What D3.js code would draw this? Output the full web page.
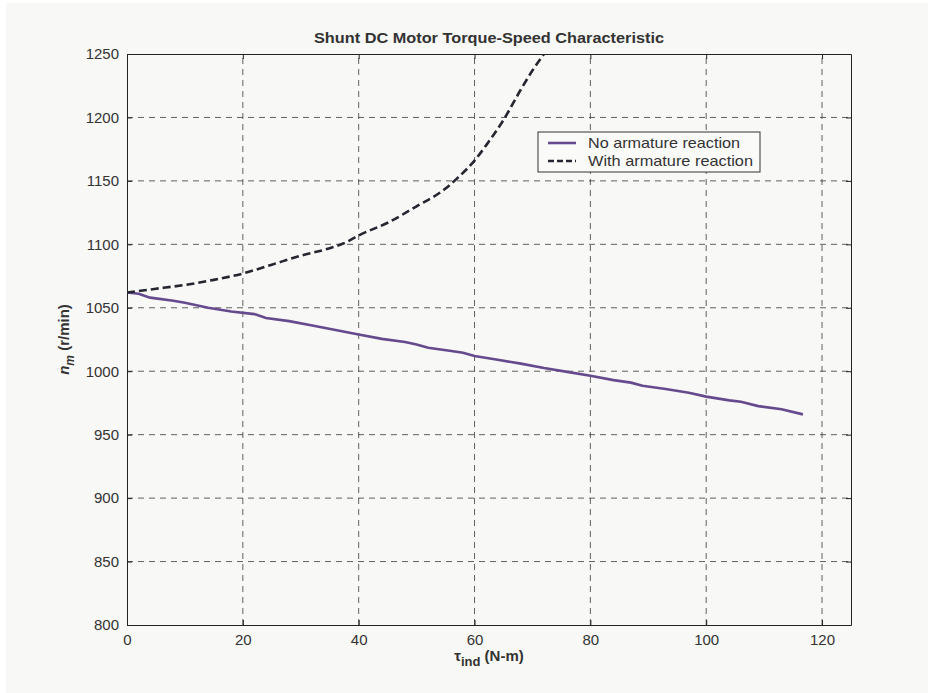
<!DOCTYPE html>
<html><head><meta charset="utf-8">
<script src="https://cdn.jsdelivr.net/npm/d3@7"></script>
<style>
html,body{margin:0;padding:0;background:#ffffff;}
svg{display:block;font-family:"Liberation Sans",Arial,Helvetica,sans-serif;}
</style></head>
<body>
<script>
// ---- data ----
const xTicks = [0, 20, 40, 60, 80, 100, 120];
const yTicks = [800, 850, 900, 950, 1000, 1050, 1100, 1150, 1200, 1250];
const seriesNames = ["No armature reaction", "With armature reaction"];
const torqueNoAR = [0, 2, 4, 8, 10, 12, 14, 18, 22, 24, 28, 32, 36, 40, 44, 48, 50, 52, 56, 58, 60, 64, 68, 72, 76, 80, 84, 87, 89, 93, 97, 100, 104, 106, 109, 113, 116.7];
const speedNoAR  = [1062, 1061, 1058, 1055.5, 1054, 1052, 1050, 1047, 1045, 1042, 1039.5, 1036, 1032.5, 1029, 1025.5, 1023, 1021, 1018.5, 1016, 1014.5, 1012, 1009, 1006, 1002.5, 999.5, 996.5, 993, 991, 988.5, 986, 983, 980, 977, 976, 972.5, 970, 966];
const torqueAR = [0, 5, 10, 15, 20, 25, 30, 35, 38, 40, 45, 50, 55, 57, 60, 62, 65, 68, 70, 72];
const speedAR  = [1062, 1065, 1068, 1072, 1077, 1084, 1091, 1097, 1102, 1107, 1117, 1130, 1144, 1152, 1166, 1178, 1198, 1222, 1237, 1250];

const W = 928, H = 693;
const m = {left: 127, right: 928 - 851, top: 54, bottom: 693 - 625};
const svg = d3.select("body").append("svg").attr("width", W).attr("height", H);
svg.append("rect").attr("x", 6).attr("y", 3).attr("width", W - 6).attr("height", H - 3).attr("fill", "#f8f8f6");

const x = d3.scaleLinear().domain([0, 125]).range([m.left, W - m.right]);
const y = d3.scaleLinear().domain([800, 1250]).range([H - m.bottom, m.top]);

const gridColor = "#3a3a3a";
// grid
const grid = svg.append("g");
xTicks.forEach(t => { if (t > 0) grid.append("line").attr("x1", x(t)).attr("x2", x(t)).attr("y1", y(800)).attr("y2", y(1250))
  .attr("stroke", gridColor).attr("stroke-width", 0.8).attr("stroke-dasharray", "6,5"); });
yTicks.forEach(t => { if (t > 800 && t < 1250) grid.append("line").attr("x1", x(0)).attr("x2", x(125)).attr("y1", y(t)).attr("y2", y(t))
  .attr("stroke", gridColor).attr("stroke-width", 0.8).attr("stroke-dasharray", "6,5"); });

// axes
const fs = 15, tc = "#333";
const fmt = d3.format("d");
const xAx = svg.append("g").attr("transform", `translate(0,${y(800)})`)
  .call(d3.axisBottom(x).tickValues(xTicks).tickFormat(fmt).tickSizeInner(-5).tickSizeOuter(0).tickPadding(9));
const xAxT = svg.append("g").attr("transform", `translate(0,${y(1250)})`)
  .call(d3.axisTop(x).tickValues(xTicks).tickSizeInner(-5).tickSizeOuter(0).tickFormat(""));
const yAx = svg.append("g").attr("transform", `translate(${x(0)},0)`)
  .call(d3.axisLeft(y).tickValues(yTicks).tickFormat(fmt).tickSizeInner(-5).tickSizeOuter(0).tickPadding(8));
const yAxR = svg.append("g").attr("transform", `translate(${x(125)},0)`)
  .call(d3.axisRight(y).tickValues(yTicks).tickSizeInner(-5).tickSizeOuter(0).tickFormat(""));
[xAx, xAxT, yAx, yAxR].forEach(g => {
  g.selectAll("path").attr("stroke", "#222").attr("stroke-width", 1);
  g.selectAll("line").attr("stroke", "#222");
  g.selectAll("text").attr("fill", tc).style("font-size", fs + "px").style("font-family", "'Liberation Sans', Arial, sans-serif");
});

// lines
svg.append("clipPath").attr("id", "clip").append("rect")
  .attr("x", x(0)).attr("y", y(1250)).attr("width", x(125) - x(0)).attr("height", y(800) - y(1250));
const line = d3.line().x(d => x(d[0])).y(d => y(d[1]));
const smooth = d3.line().x(d => x(d[0])).y(d => y(d[1])).curve(d3.curveMonotoneX);
const dNo = torqueNoAR.map((t, i) => [t, speedNoAR[i]]);
const dAR = torqueAR.map((t, i) => [t, speedAR[i]]);
svg.append("path").attr("d", line(dNo)).attr("fill", "none").attr("stroke", "#654b8e").attr("stroke-width", 2.6).attr("clip-path", "url(#clip)");
svg.append("path").attr("d", smooth(dAR)).attr("fill", "none").attr("stroke", "#262630").attr("stroke-width", 2.6).attr("stroke-dasharray", "8,4").attr("clip-path", "url(#clip)");

// title
svg.append("text").attr("x", (x(0) + x(125)) / 2).attr("y", 43).attr("text-anchor", "middle")
  .attr("fill", "#333").style("font-size", "15px").style("font-weight", "bold")
  .attr("textLength", 350).attr("lengthAdjust", "spacingAndGlyphs")
  .text("Shunt DC Motor Torque-Speed Characteristic");

// x label
const xl = svg.append("text").attr("x", (x(0) + x(125)) / 2).attr("y", 661).attr("text-anchor", "middle")
  .attr("fill", "#333").style("font-size", "15px").style("font-weight", "bold");
xl.append("tspan").text("τ");
xl.append("tspan").attr("dy", 5).style("font-size", "13px").text("ind");
xl.append("tspan").attr("dy", -5).text(" (N-m)");

// y label
const yl = svg.append("text").attr("transform", `translate(69,${(y(800) + y(1250)) / 2}) rotate(-90)`).attr("text-anchor", "middle")
  .attr("fill", "#333").style("font-size", "15px").style("font-weight", "bold");
yl.append("tspan").style("font-style", "italic").text("n");
yl.append("tspan").attr("dy", 5).style("font-style", "italic").style("font-size", "12px").text("m");
yl.append("tspan").attr("dy", -5).text(" (r/min)");

// legend
const lg = svg.append("g");
lg.append("rect").attr("x", 538).attr("y", 132).attr("width", 222).attr("height", 40)
  .attr("fill", "#fafaf9").attr("stroke", "#333").attr("stroke-width", 1);
const lgStyles = [{c: "#654b8e", d: null, w: 152}, {c: "#262630", d: "6,3", w: 165}];
seriesNames.forEach((n, i) => {
  const yy = 143 + i * 18;
  const l = lg.append("line").attr("x1", 548).attr("x2", 576).attr("y1", yy).attr("y2", yy)
    .attr("stroke", lgStyles[i].c).attr("stroke-width", 2.6);
  if (lgStyles[i].d) l.attr("stroke-dasharray", lgStyles[i].d);
  lg.append("text").attr("x", 588).attr("y", yy + 5).attr("fill", "#333").style("font-size", "15px")
    .attr("textLength", lgStyles[i].w).attr("lengthAdjust", "spacingAndGlyphs").text(n);
});
</script>
</body></html>
